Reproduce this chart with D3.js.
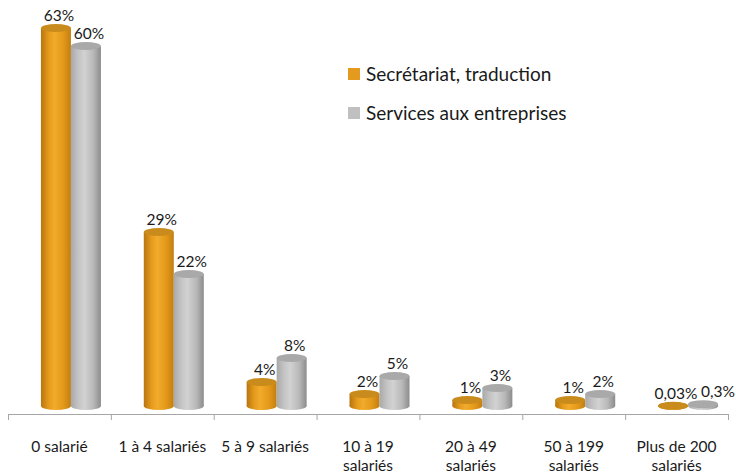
<!DOCTYPE html>
<html lang="fr">
<head>
<meta charset="UTF-8">
<title>Taille des entreprises</title>
<script src="https://cdn.jsdelivr.net/npm/d3@7"></script>
<style>
    body { margin: 0; background: #fff; }
    svg { display: block; }
    text { font-family: Lato, "Open Sans", sans-serif; fill: #1a1a1a; }
    .axis path, .axis line { stroke: #a6a6a6; }
</style>
</head>
<body>
<svg width="736" height="474"></svg>
<script>
// categories (each entry = lines of the label)
var categories = [
    ["0 salarié"],
    ["1 à 4 salariés"],
    ["5 à 9 salariés"],
    ["10 à 19", "salariés"],
    ["20 à 49", "salariés"],
    ["50 à 199", "salariés"],
    ["Plus de 200", "salariés"]
];
var seriesNames = ["Secrétariat, traduction", "Services aux entreprises"];
var secretariat = [63, 29, 4, 2, 1, 1, 0.03];
var services = [60, 22, 8, 5, 3, 2, 0.3];

var svg = d3.select("svg");
var defs = svg.append("defs");

// colours per series: body gradient + top
var styles = [
    {id: "gOrange", stops: ["#b87510", "#e59a1c", "#f2ab2c", "#e39818", "#c27e12"], top: "#c98c1c", legend: "#e39a1e"},
    {id: "gGrey", stops: ["#a9a9a9", "#c4c4c4", "#d2d2d2", "#b8b8b8", "#8c8c8c"], top: "#a9a9a9", legend: "#c0c0c0"}
];
styles.forEach(function (s) {
    var g = defs.append("linearGradient").attr("id", s.id)
        .attr("x1", 0).attr("x2", 1).attr("y1", 0).attr("y2", 0);
    [0, 0.25, 0.45, 0.75, 1].forEach(function (o, i) {
        g.append("stop").attr("offset", o).attr("stop-color", s.stops[i]);
    });
});

var axisY = 414;
var base = 406;
var x = d3.scaleBand().domain(d3.range(categories.length)).range([8, 728]);
var xEdge = d3.scaleLinear().domain([0, categories.length]).range([8, 728]);
var y = d3.scaleLinear().domain([0, 63]).range([base, 28]);
var barW = 30, ry = 4;
var sub = d3.scaleBand().domain([0, 1]).range([0, barW * 2]);

// axis with ticks at band edges
svg.append("g")
    .attr("class", "axis")
    .attr("transform", "translate(0," + axisY + ")")
    .call(d3.axisBottom(xEdge).tickValues(d3.range(categories.length + 1))
        .tickFormat("").tickSize(6).tickSizeOuter(0));

var data = [];
[secretariat, services].forEach(function (vals, s) {
    vals.forEach(function (v, i) {
        data.push({cat: i, s: s, v: v});
    });
});

function barX(d) {
    return x(d.cat) + x.bandwidth() / 2 - 18.5 + sub(d.s);
}

var bars = svg.selectAll(".bar").data(data).enter().append("g").attr("class", "bar");

bars.append("ellipse")
    .attr("cx", function (d) { return barX(d) + barW / 2; })
    .attr("cy", base)
    .attr("rx", barW / 2).attr("ry", ry)
    .attr("fill", function (d) { return "url(#" + styles[d.s].id + ")"; });
bars.append("rect")
    .attr("x", barX)
    .attr("y", function (d) { return y(d.v); })
    .attr("width", barW)
    .attr("height", function (d) { return base - y(d.v); })
    .attr("fill", function (d) { return "url(#" + styles[d.s].id + ")"; });
bars.append("ellipse")
    .attr("cx", function (d) { return barX(d) + barW / 2; })
    .attr("cy", function (d) { return y(d.v); })
    .attr("rx", barW / 2).attr("ry", ry)
    .attr("fill", function (d) { return styles[d.s].top; });

// value labels (the tiny last pair is pushed apart, as in the original)
svg.selectAll(".val").data(data).enter().append("text")
    .attr("class", "val")
    .attr("x", function (d) {
        var nudge = (d.cat === categories.length - 1 && d.s === 1) ? 15 : 3;
        return barX(d) + barW / 2 + nudge;
    })
    .attr("y", function (d) { return y(d.v) - ry - 3; })
    .attr("text-anchor", "middle")
    .style("font-size", "15.5px")
    .text(function (d) { return String(d.v).replace(".", ",") + "%"; });

// category labels
var cl = svg.selectAll(".cat").data(categories).enter().append("text")
    .attr("class", "cat")
    .attr("text-anchor", "middle")
    .style("font-size", "15.5px")
    .attr("transform", function (d, i) { return "translate(" + (x(i) + x.bandwidth() / 2) + ",452)"; });
cl.selectAll("tspan").data(function (d) { return d; }).enter().append("tspan")
    .attr("x", 0)
    .attr("dy", function (d, i) { return i === 0 ? 0 : 19; })
    .text(function (d) { return d; });

// legend
var lg = svg.selectAll(".leg").data(seriesNames).enter().append("g")
    .attr("class", "leg")
    .attr("transform", function (d, i) { return "translate(348," + (68 + i * 39) + ")"; });
lg.append("rect").attr("width", 12).attr("height", 12)
    .attr("fill", function (d, i) { return styles[i].legend; });
lg.append("text").attr("x", 18).attr("y", 12.5)
    .style("font-size", "19px")
    .text(function (d) { return d; });
</script>
</body>
</html>
